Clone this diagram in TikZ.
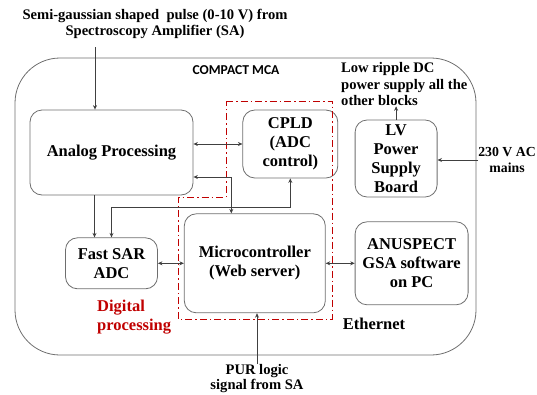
\documentclass[tikz,border=0pt]{standalone}
\usepackage{fontspec}
\setmainfont{Liberation Serif}
\newfontfamily\mcafont{Carlito}
\usetikzlibrary{positioning, arrows.meta}
\usepackage{xcolor}
\definecolor{digred}{HTML}{C00000}
\definecolor{boxgray}{HTML}{6E6E6E}

\begin{document}
\begin{tikzpicture}[x=1pt, y=1pt, >={Stealth[length=4.5pt, width=4pt]}]

% Styles for boxes
\tikzstyle{block} = [rectangle, draw=boxgray, line width=0.8pt, rounded corners=12pt, align=center, font=\fontsize{16.5}{19}\selectfont\bfseries, inner sep=1pt]
\tikzstyle{note} = [align=center, font=\fontsize{14.6}{16.8}\selectfont\bfseries, inner sep=0pt]
\tikzstyle{link} = [draw=black!75, line width=0.7pt]

\useasboundingbox (0,0) rectangle (537,-394);

% Frame
\node [rectangle, draw=boxgray, line width=0.8pt, rounded corners=45pt, minimum width=461pt, minimum height=297pt, inner sep=0pt] (mca) at (245.5,-206.5) {};
\node [font=\mcafont\fontsize{13.6}{16}\selectfont\bfseries] (mcatitle) at (236,-70) {COMPACT MCA};

% Nodes
\node [block, minimum width=163pt, minimum height=85pt] (analog) at (111.5,-152.5) {Analog Processing};
\node [block, minimum width=95pt, minimum height=68pt, right=49pt of analog.north east, anchor=north west] (cpld) {CPLD\\(ADC\\control)};
\node [block, minimum width=92pt, minimum height=51pt, below=42pt of analog] (sar) {Fast SAR\\ADC};
\node [block, minimum width=141pt, minimum height=99pt, right=26pt of sar] (mcu) {Microcontroller\\(Web server)};
\node [block, minimum width=113pt, minimum height=83pt, right=29pt of mcu] (pc) {ANUSPECT\\GSA software\\on PC};
\node [block, minimum width=82pt, minimum height=77pt, above=24pt of pc.north west, anchor=south west] (lv) {LV\\Power\\Supply\\Board};

% Labels
\node [note] (pulse) at (155,-24) {Semi-gaussian shaped\ \ pulse (0-10 V) from\\Spectroscopy Amplifier (SA)};
\node [note, align=left, anchor=north west] (ripple) at (341,-62) {Low ripple DC\\power supply all the\\other blocks};
\node [note, font=\fontsize{13.8}{16.8}\selectfont\bfseries] (mains) at (507,-160) {230 V AC\\mains};
\node [note, font=\fontsize{14.6}{15.6}\selectfont\bfseries, anchor=north] (pur) at (257,-364) {PUR logic\\signal from SA};
\node [note, font=\fontsize{16.5}{19}\selectfont\bfseries, text=digred, align=left, anchor=north west] (digital) at (97,-300) {Digital\\processing};
\node [note, font=\fontsize{16.5}{19}\selectfont\bfseries] (ethernet) at (374,-324) {Ethernet};

% Digital processing region
\draw [digred, line width=0.9pt, dash pattern=on 7pt off 3pt on 1.5pt off 3pt]
  (226,-101) -- (332,-101) -- (332,-319) -- (178,-319) -- (178,-197) -- (226,-197) -- cycle;

% Edges
\coordinate (pulseout) at ([yshift=-8pt]pulse.south);
\coordinate (pulsein) at ([xshift=-16.5pt]analog.north);
\coordinate (sarin) at ([xshift=-17pt]sar.north);
\coordinate (anaout) at ([yshift=-24.5pt]analog.east);
\coordinate (mcuin) at ([xshift=-23.5pt]mcu.north);
\coordinate (bus) at ([yshift=-29pt]cpld.south);

\draw [link, ->] (pulseout -| pulsein) -- (pulsein);
\draw [link, <->] (cpld.west -| analog.east) -- (cpld.west);
\draw [link, <->] (anaout) -| (mcuin);
\draw [link, ->] (sarin |- analog.south) -- (sarin);
\draw [link, <->] (sar.north) |- (bus) -- (cpld.south);
\draw [link, <->] (sar.east) -- (mcu.west);
\draw [link, <->] (mcu.east) -- (pc.west);
\draw [link, ->] (pur.north) -- (pur.north |- mcu.south);
\draw [link, ->] (lv.north) -- (lv.north |- ripple.south);
\draw [link, ->] (mains.west) -- (mains.west -| lv.east);

\end{tikzpicture}
\end{document}
